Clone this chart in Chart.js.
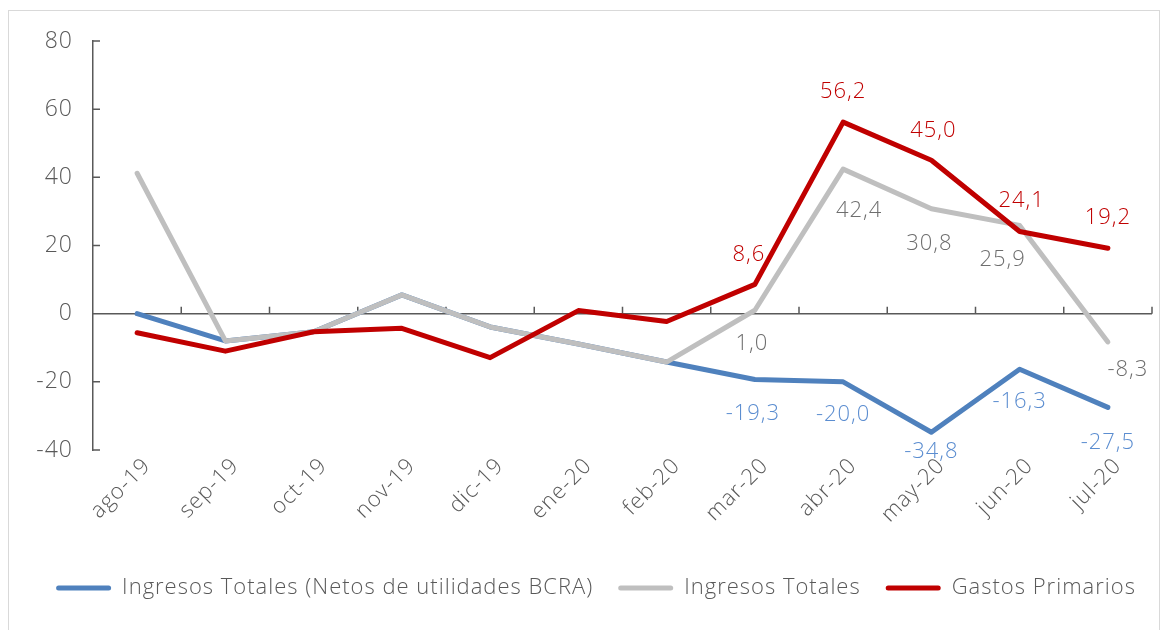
<!DOCTYPE html>
<html>
<head>
<meta charset="utf-8">
<script src="https://cdn.jsdelivr.net/npm/chart.js@4"></script>
<style>
  html, body { margin: 0; padding: 0; background: #fff; }
  #wrap { position: relative; width: 1168px; height: 630px; overflow: hidden; }
  #frame { position: absolute; left: 8px; top: 10px; width: 1152px; height: 640px; border: 1.5px solid #d9d9d9; box-sizing: border-box; }
  canvas { position: absolute; left: 0; top: 0; }
</style>
</head>
<body>
<div id="wrap">
  <div id="frame"></div>
  <canvas id="myChart" width="1168" height="630"></canvas>
</div>
<script>
const months = ["ago-19", "sep-19", "oct-19", "nov-19", "dic-19", "ene-20", "feb-20", "mar-20", "abr-20", "may-20", "jun-20", "jul-20"];
const ingresosNetos = [0, -8.0, -5.3, 5.5, -3.9, -8.9, -14.2, -19.3, -20.0, -34.8, -16.3, -27.5];
const ingresosTotales = [41.2, -8.0, -5.3, 5.5, -3.9, -8.9, -14.2, 1.0, 42.4, 30.8, 25.9, -8.3];
const gastosPrimarios = [-5.6, -11.0, -5.3, -4.3, -12.9, 0.9, -2.3, 8.6, 56.2, 45.0, 24.1, 19.2];
const yTicks = [-40, -20, 0, 20, 40, 60, 80];
const firstLabelled = 7; // value labels from mar-20 on

const fontFamily = "'Open Sans', sans-serif";
const fontWeight = 300;
const textColor = "#595959";
const axisColor = "#595959";

/* label offsets (px from point to label centre), mar-20 .. jul-20 */
const labelStyle = [
  { color: "#5b8dd0", offsets: [[-2, 34], [0, 33], [0, 33], [0, 33], [0, 35]] },
  { color: "#6e6e6e", offsets: [[-3, 33], [16, 42], [-2, 35], [-17, 34], [20, 28]] },
  { color: "#c00000", offsets: [[-6, -30], [0, -30], [2, -30], [2, -31], [0, -30]] }
];

/*wider text, closer to the original font*/
const spacing = {
  id: "spacing",
  afterInit(chart) { chart.ctx.letterSpacing = "1px"; },
  beforeUpdate(chart) { chart.ctx.letterSpacing = "1px"; },
  beforeDraw(chart) { chart.ctx.letterSpacing = "1px"; }
};

/* axis line at zero with upward ticks, y ticks pointing inside */
const axisMarks = {
  id: "axisMarks",
  beforeDatasetsDraw(chart) {
    const { ctx, scales: { x, y }, chartArea } = chart;
    const zero = y.getPixelForValue(0);
    ctx.save();
    ctx.strokeStyle = axisColor;
    ctx.lineWidth = 1.5;
    ctx.beginPath();
    ctx.moveTo(chartArea.left, zero);
    ctx.lineTo(chartArea.right, zero);
    for (let i = 1; i <= months.length; i++) {
      const bx = x.getPixelForValue(i - 0.5);
      ctx.moveTo(bx, zero);
      ctx.lineTo(bx, zero - 7);
    }
    yTicks.forEach((v) => {
      const ty = y.getPixelForValue(v);
      ctx.moveTo(chartArea.left, ty);
      ctx.lineTo(chartArea.left + 7, ty);
    });
    ctx.stroke();

    /*value labels, under the lines like in the original*/
    ctx.font = fontWeight + " 22px " + fontFamily;
    ctx.textAlign = "center";
    ctx.textBaseline = "middle";
    chart.data.datasets.forEach((ds, di) => {
      const meta = chart.getDatasetMeta(di);
      for (let i = firstLabelled; i < ds.data.length; i++) {
        const pt = meta.data[i];
        const off = labelStyle[di].offsets[i - firstLabelled];
        const text = ds.data[i].toFixed(1).replace(".", ",");
        let ly = pt.y + off[1];
        ly = Math.min(ly, chartArea.bottom + 2);
        ctx.fillStyle = labelStyle[di].color;
        ctx.fillText(text, pt.x + off[0], ly);
      }
    });
    ctx.restore();
  }
};

const ctx = document.getElementById("myChart").getContext("2d");

const myData = {
  labels: months,
  datasets: [
    {
      label: "Ingresos Totales (Netos de utilidades BCRA)",
      data: ingresosNetos,
      borderColor: "#4f81bd",
      order: 3
    },
    {
      label: "Ingresos Totales",
      data: ingresosTotales,
      borderColor: "#bfbfbf",
      order: 2
    },
    {
      label: "Gastos Primarios",
      data: gastosPrimarios,
      borderColor: "#c00000",
      order: 1
    }
  ]
};

let myChart = new Chart(ctx, {
  type: "line",
  data: myData,
  options: {
    responsive: false,
    animation: false,
    devicePixelRatio: 1,
    layout: { padding: { left: 24, right: 0, top: 41, bottom: 21 } },
    elements: {
      line: { borderWidth: 5, borderCapStyle: "round", borderJoinStyle: "round", tension: 0 },
      point: { radius: 0, hoverRadius: 0 }
    },
    scales: {
      x: {
        offset: true,
        grid: { display: false, drawTicks: false },
        border: { display: false },
        ticks: {
          autoSkip: false,
          maxRotation: 45,
          minRotation: 45,
          padding: 3,
          labelOffset: 10,
          color: textColor,
          font: { family: fontFamily, size: 22, weight: fontWeight }
        },
        afterFit: (s) => { s.height = 102; }
      },
      y: {
        min: -40,
        max: 80,
        grid: { display: false, drawTicks: false },
        border: { display: true, color: axisColor, width: 1.5 },
        afterBuildTicks: (s) => { s.ticks = yTicks.map((v) => ({ value: v })); },
        ticks: {
          padding: 20,
          color: textColor,
          font: { family: fontFamily, size: 23, weight: fontWeight }
        },
        afterFit: (s) => { s.width = 69; }
      },
      pad: {
        position: "right",
        display: true,
        grid: { display: false, drawTicks: false },
        border: { display: false },
        ticks: { display: false },
        afterFit: (s) => { s.width = 16; }
      }
    },
    plugins: {
      tooltip: { enabled: false },
      legend: {
        position: "bottom",
        labels: {
          boxWidth: 55,
          boxHeight: 5,
          padding: 25,
          color: textColor,
          font: { family: fontFamily, size: 22, weight: fontWeight },
          useBorderRadius: true,
          generateLabels: (chart) => chart.data.datasets.map((ds, i) => ({
            text: ds.label,
            fillStyle: ds.borderColor,
            strokeStyle: ds.borderColor,
            lineWidth: 0,
            borderRadius: 2.5,
            fontColor: textColor,
            hidden: false,
            datasetIndex: i
          }))
        }
      }
    }
  },
  plugins: [spacing, axisMarks]
});
</script>
</body>
</html>
